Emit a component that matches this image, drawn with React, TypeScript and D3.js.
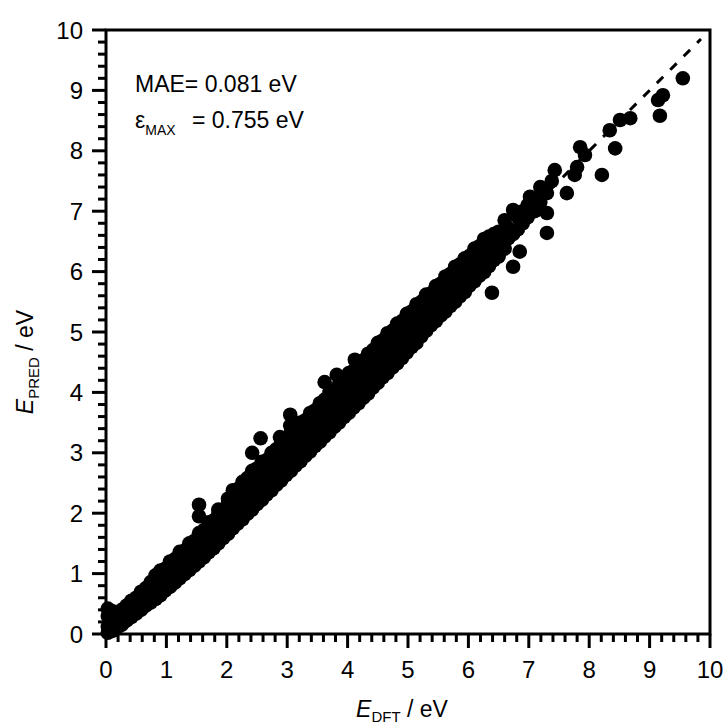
import React from "react";
import * as d3 from "d3";

// Rows: [E_DFT, E_PRED values at that E_DFT...]
const lowBand: number[][] = [
  [0.03, 0.02, 0.12, 0.3, 0.42],
  [0.1, 0.05, 0.18, 0.38],
  [0.18, 0.1, 0.22, 0.32],
  [0.26, 0.15, 0.27, 0.4],
  [0.34, 0.22, 0.36, 0.47],
  [0.42, 0.28, 0.4, 0.55],
  [0.5, 0.34, 0.5, 0.6],
  [0.58, 0.4, 0.54, 0.7],
  [0.66, 0.47, 0.62, 0.76],
  [0.74, 0.52, 0.67, 0.86],
  [0.82, 0.58, 0.76, 0.88, 0.97],
  [0.9, 0.64, 0.8, 0.95, 1.05],
  [0.98, 0.72, 0.88, 1.0, 1.08],
  [1.06, 0.78, 0.94, 1.1, 1.2],
  [1.14, 0.85, 1.01, 1.15, 1.24],
  [1.22, 0.92, 1.07, 1.23, 1.36],
  [1.3, 0.99, 1.16, 1.3, 1.38],
  [1.38, 1.06, 1.21, 1.37, 1.5],
  [1.46, 1.13, 1.31, 1.44, 1.54],
  [1.54, 1.2, 1.37, 1.53, 1.67, 1.95, 2.14],
  [1.62, 1.27, 1.45, 1.6, 1.72],
  [1.7, 1.35, 1.51, 1.69, 1.85],
  [1.78, 1.42, 1.61, 1.75, 1.88],
  [1.86, 1.5, 1.67, 1.85, 2.0, 2.06],
  [1.94, 1.59, 1.77, 1.91, 2.04],
];

const midBand: number[][] = [
  [2.02, 1.66, 1.85, 2.0, 2.16, 2.24],
  [2.1, 1.75, 1.91, 2.09, 2.2, 2.38],
  [2.18, 1.83, 2.01, 2.15, 2.32, 2.4],
  [2.26, 1.9, 2.07, 2.25, 2.36, 2.52],
  [2.34, 1.99, 2.17, 2.31, 2.48, 2.58],
  [2.42, 2.06, 2.23, 2.41, 2.53, 2.7, 3.0],
  [2.5, 2.15, 2.33, 2.47, 2.64, 2.74],
  [2.56, 3.24],
  [2.58, 2.22, 2.39, 2.57, 2.68, 2.85],
  [2.66, 2.31, 2.49, 2.63, 2.8, 2.88],
  [2.74, 2.38, 2.55, 2.73, 2.84, 3.0],
  [2.82, 2.47, 2.65, 2.79, 2.96, 3.06],
  [2.88, 3.26],
  [2.9, 2.54, 2.71, 2.89, 3.0, 3.18],
  [2.98, 2.63, 2.81, 2.95, 3.12, 3.2],
  [3.05, 3.45, 3.63],
  [3.06, 2.7, 2.87, 3.05, 3.16, 3.34],
  [3.14, 2.79, 2.97, 3.11, 3.28, 3.38],
  [3.22, 2.86, 3.03, 3.21, 3.32, 3.5],
  [3.3, 2.95, 3.13, 3.27, 3.44, 3.54],
  [3.38, 3.02, 3.19, 3.37, 3.48, 3.66],
  [3.46, 3.11, 3.29, 3.43, 3.6, 3.7],
  [3.54, 3.18, 3.35, 3.53, 3.64, 3.82],
  [3.62, 3.27, 3.45, 3.59, 3.78, 3.88, 4.17],
  [3.7, 3.34, 3.51, 3.69, 3.82, 4.0],
  [3.78, 3.43, 3.61, 3.75, 3.94, 4.04],
  [3.82, 4.29],
  [3.86, 3.5, 3.67, 3.85, 3.98, 4.14],
  [3.94, 3.59, 3.77, 3.91, 4.1, 4.18],
  [4.02, 3.66, 3.83, 4.01, 4.14, 4.32],
  [4.1, 3.75, 3.93, 4.07, 4.26, 4.36],
  [4.12, 4.54],
  [4.18, 3.82, 3.99, 4.17, 4.3, 4.48],
  [4.26, 3.91, 4.09, 4.23, 4.42, 4.53],
  [4.34, 3.98, 4.15, 4.33, 4.46, 4.64],
  [4.42, 4.08, 4.25, 4.39, 4.58, 4.7],
  [4.5, 4.16, 4.31, 4.49, 4.62, 4.82],
  [4.58, 4.25, 4.41, 4.55, 4.74, 4.86],
  [4.66, 4.32, 4.47, 4.65, 4.78, 4.98],
  [4.74, 4.41, 4.57, 4.71, 4.9, 5.02],
  [4.82, 4.48, 4.63, 4.81, 4.94, 5.14],
  [4.9, 4.57, 4.73, 4.87, 5.06, 5.18],
];

const highBand: number[][] = [
  [4.98, 4.66, 4.81, 4.95, 5.1, 5.3],
  [5.06, 4.75, 4.87, 5.05, 5.22, 5.34],
  [5.14, 4.82, 4.97, 5.11, 5.26, 5.46],
  [5.22, 4.93, 5.03, 5.21, 5.38, 5.5],
  [5.3, 5.02, 5.15, 5.27, 5.42, 5.62],
  [5.38, 5.11, 5.21, 5.37, 5.54, 5.64],
  [5.46, 5.18, 5.31, 5.43, 5.58, 5.76],
  [5.54, 5.27, 5.37, 5.53, 5.7, 5.8],
  [5.62, 5.34, 5.47, 5.59, 5.74, 5.92],
  [5.7, 5.43, 5.53, 5.69, 5.86, 5.96],
  [5.78, 5.5, 5.63, 5.75, 5.9, 6.08],
  [5.86, 5.59, 5.71, 5.87, 6.02, 6.12],
  [5.94, 5.66, 5.81, 5.93, 6.06, 6.22],
  [6.02, 5.77, 5.89, 6.03, 6.18, 6.26],
  [6.1, 5.84, 5.99, 6.09, 6.22, 6.38],
  [6.18, 5.93, 6.05, 6.21, 6.36, 6.42],
  [6.26, 5.99, 6.15, 6.27, 6.4, 6.54],
  [6.34, 6.09, 6.23, 6.39, 6.52, 6.58],
  [6.39, 5.65],
  [6.42, 6.19, 6.35, 6.47, 6.62],
  [6.5, 6.25, 6.41, 6.57, 6.66],
  [6.6, 6.38, 6.5, 6.85],
  [6.66, 6.55, 6.72],
  [6.74, 6.08, 6.62, 7.02],
  [6.82, 6.7, 6.9],
  [6.85, 6.33],
  [6.9, 6.8, 7.0],
  [6.98, 6.9, 7.1],
  [7.02, 7.07, 7.24],
  [7.1, 7.0, 7.2],
  [7.19, 7.15, 7.4],
  [7.3, 6.64, 6.97, 7.3],
  [7.38, 7.5],
  [7.43, 7.68],
  [7.63, 7.3],
  [7.76, 7.6],
  [7.8, 7.73],
  [7.85, 8.06],
  [7.93, 7.93],
  [8.21, 7.6],
  [8.34, 8.34],
  [8.43, 8.04],
  [8.51, 8.51],
  [8.68, 8.54],
  [9.14, 8.84],
  [9.17, 8.58],
  [9.22, 8.92],
  [9.55, 9.2],
];

const majorTicks = [0, 1, 2, 3, 4, 5, 6, 7, 8, 9, 10];
const tickLabels = ["0", "1", "2", "3", "4", "5", "6", "7", "8", "9", "10"];
const parityLine = [0, 9.85];

const FONT = "'Liberation Sans', Arial, sans-serif";

export default function App() {
  const x = d3.scaleLinear().domain([0, 10]).range([106, 710]);
  const y = d3.scaleLinear().domain([0, 10]).range([634, 30]);

  const points: [number, number][] = [];
  for (const row of [...lowBand, ...midBand, ...highBand]) {
    const xv = row[0];
    for (let i = 1; i < row.length; i++) points.push([xv, row[i]]);
  }

  const minorTicks = d3.range(0, 10.001, 0.2).filter((t) => Math.abs(t - Math.round(t)) > 1e-6);

  const x0 = x(0), x1 = x(10), y0 = y(0), y1 = y(10);
  const majorLen = 14, minorLen = 8;

  return (
    <svg width={726} height={726} style={{ position: "absolute", left: 0, top: 0, background: "#fff" }}>
      <rect width={726} height={726} fill="#fff" />
      <line
        x1={x(parityLine[0])}
        y1={y(parityLine[0])}
        x2={x(parityLine[1])}
        y2={y(parityLine[1])}
        stroke="#000"
        strokeWidth={3}
        strokeDasharray="9,10"
      />
      <g fill="#000">
        {points.map((p, i) => (
          <circle key={i} cx={x(p[0])} cy={y(p[1])} r={7.3} />
        ))}
      </g>
      <rect x={x0} y={y1} width={x1 - x0} height={y0 - y1} fill="none" stroke="#000" strokeWidth={3} />
      <g stroke="#000" strokeWidth={3}>
        {majorTicks.map((t) => (
          <line key={"xm" + t} x1={x(t)} x2={x(t)} y1={y0} y2={y0 + majorLen} />
        ))}
        {minorTicks.map((t, i) => (
          <line key={"xn" + i} x1={x(t)} x2={x(t)} y1={y0} y2={y0 + minorLen} />
        ))}
        {majorTicks.map((t) => (
          <line key={"ym" + t} x1={x0} x2={x0 - majorLen} y1={y(t)} y2={y(t)} />
        ))}
        {minorTicks.map((t, i) => (
          <line key={"yn" + i} x1={x0} x2={x0 - minorLen} y1={y(t)} y2={y(t)} />
        ))}
      </g>
      <g fontFamily={FONT} fontSize={24} fill="#000">
        {majorTicks.map((t, i) => (
          <text key={"xl" + t} x={x(t)} y={678} textAnchor="middle">
            {tickLabels[i]}
          </text>
        ))}
        {majorTicks.map((t, i) => (
          <text key={"yl" + t} x={83} y={y(t) + 8.5} textAnchor="end">
            {tickLabels[i]}
          </text>
        ))}
      </g>
      <text x={402} y={717} textAnchor="middle" fontFamily={FONT} fontSize={23} fill="#000">
        <tspan fontStyle="italic">E</tspan>
        <tspan fontSize={15} dy={5}>DFT</tspan>
        <tspan dy={-5}> / eV</tspan>
      </text>
      <text
        transform="translate(33,362) rotate(-90)"
        textAnchor="middle"
        fontFamily={FONT}
        fontSize={23}
        fill="#000"
      >
        <tspan fontStyle="italic">E</tspan>
        <tspan fontSize={15} dy={6}>PRED</tspan>
        <tspan dy={-6}> / eV</tspan>
      </text>
      <text x={135} y={92} fontFamily={FONT} fontSize={23} fill="#000">
        MAE= 0.081 eV
      </text>
      <text x={135} y={128} fontFamily={FONT} fontSize={23} fill="#000">
        ε
        <tspan fontSize={14} dy={7}>MAX</tspan>
        <tspan x={192} dy={-7}>= 0.755 eV</tspan>
      </text>
    </svg>
  );
}
